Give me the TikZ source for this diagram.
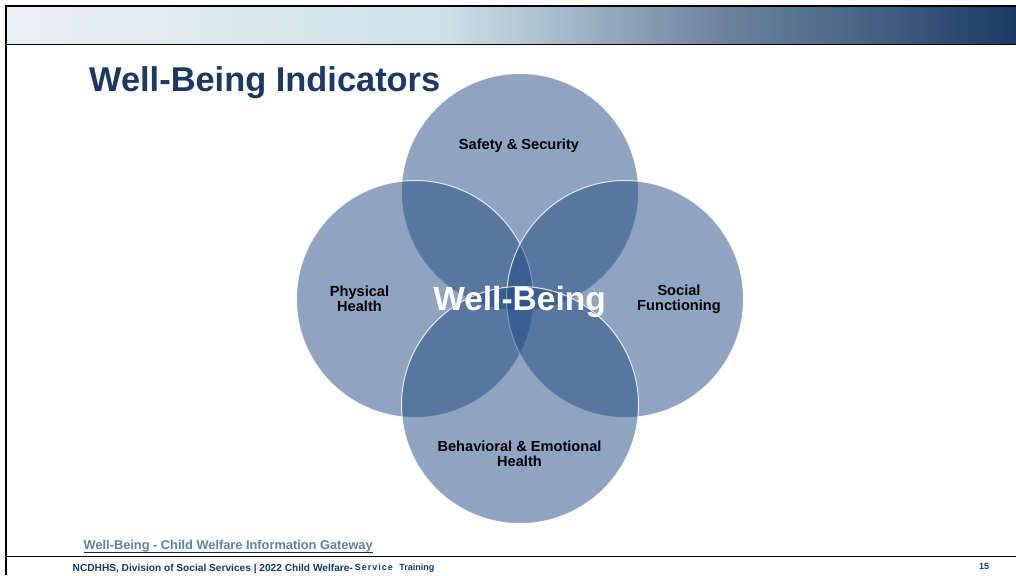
\documentclass[tikz,border=0pt]{standalone}
\usepackage{fontspec}
\setmainfont{Liberation Sans}
\definecolor{navy}{HTML}{1B3A63}
\definecolor{petal}{HTML}{1F4B83}
\definecolor{linkblue}{HTML}{5A87A5}
\pgfdeclarehorizontalshading{bandshade}{100bp}{
 rgb(0bp)=(0.92,0.94,0.97);
 rgb(25bp)=(0.92,0.94,0.97);
 rgb(37bp)=(0.86,0.91,0.94);
 rgb(46.5bp)=(0.81,0.88,0.91);
 rgb(49.7bp)=(0.725,0.804,0.851);
 rgb(55bp)=(0.576,0.659,0.737);
 rgb(60.8bp)=(0.416,0.506,0.60);
 rgb(66.4bp)=(0.302,0.416,0.541);
 rgb(75bp)=(0.106,0.227,0.388);
 rgb(100bp)=(0.106,0.227,0.388)}
\tikzset{
 petalc/.style={circle,draw=white,line width=1pt,fill=petal,fill opacity=0.5,draw opacity=0.8,minimum size=237pt,inner sep=0pt,text opacity=1},
 lab/.style={font=\bfseries\fontsize{14.6}{15}\selectfont,align=center,text=black,inner sep=0pt},
 rule/.style={draw=black,line width=1.5pt}
}
\begin{document}
\begin{tikzpicture}[x=1pt,y=-1pt]
\useasboundingbox (0,0) rectangle (1016,575);
\fill[white] (0,0) rectangle (1016,575);
\shade[shading=bandshade] (6,6) rectangle (1016,44);
\coordinate (tl) at (6,6);
\coordinate (tr) at (1016,6);
\coordinate (bl) at (6,575);
\coordinate (ml) at (6,44.5);
\coordinate (mr) at (1016,44.5);
\coordinate (fl) at (6,556.5);
\coordinate (fr) at (1016,556.5);
\draw[rule] (bl) -- (tl) -- (tr);
\draw[rule] (ml) -- (mr);
\draw[rule] (fl) -- (fr);
\node[font=\bfseries\fontsize{34.4}{38}\selectfont,text=navy,anchor=west,inner sep=0pt] (title) at (89,82.5) {Well-Being Indicators};
\node[petalc] (ctop) at (520,192) {};
\node[petalc] (cleft) at (415,299) {};
\node[petalc] (cright) at (625,299) {};
\node[petalc] (cbottom) at (520,405) {};
\node[lab] (safety) at (519,145.5) {Safety \& Security};
\node[lab] (phys) at (359.5,298.5) {Physical\\Health};
\node[lab] (soc) at (679,299) {Social\\Functioning};
\node[lab] (beh) at (519.5,453.5) {Behavioral \& Emotional\\Health};
\node[font=\bfseries\fontsize{33.5}{38}\selectfont,text=white,inner sep=0pt] (wb) at (519.5,302) {Well-Being};
\node[font=\bfseries\fontsize{12.8}{14}\selectfont,text=linkblue,anchor=west,inner sep=0pt] (link) at (83.5,546.5) {Well-Being - Child Welfare Information Gateway};
\coordinate (ula) at (83.5,552.5);
\coordinate (ulb) at (373,552.5);
\draw[navy!70!black,line width=1.5pt] (ula) -- (ulb);
\node[font=\bfseries\fontsize{10.15}{11}\selectfont,text=navy,anchor=west,inner sep=0pt] (foot) at (72.5,568.5) {NCDHHS, Division of Social Services | 2022 Child Welfare-};
\node[font=\bfseries\fontsize{9}{11}\selectfont,text=navy,anchor=east,inner sep=0pt] (foot2) at (434.5,568.5) {{\addfontfeature{LetterSpace=11}Service}\hspace{6.5pt}Training};
\node[font=\bfseries\fontsize{9}{11}\selectfont,text=navy,inner sep=0pt] (pg) at (984,566.5) {15};
\end{tikzpicture}
\end{document}
